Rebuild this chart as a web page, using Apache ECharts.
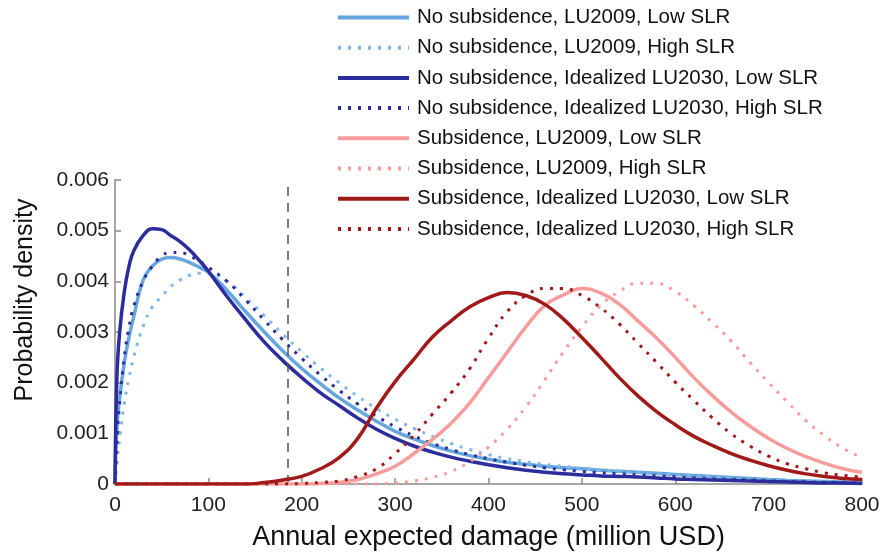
<!DOCTYPE html>
<html>
<head>
<meta charset="utf-8">
<script src="https://cdn.jsdelivr.net/npm/echarts@6/dist/echarts.min.js"></script>
<style>
  html, body { margin: 0; padding: 0; background: #fff; }
  #chart { width: 885px; height: 556px; }
</style>
</head>
<body>
<div id="chart"></div>
<script>
// Annual expected damage (million USD), shared sample points for every curve
const damage = [0, 2, 5, 10, 15, 20, 30, 40, 50, 60, 70, 80, 90, 100,
  120, 140, 160, 180, 200, 220, 240, 260, 280, 300, 320, 340, 360, 380, 400,
  420, 440, 460, 480, 500, 520, 540, 560, 580, 600, 620, 640, 660, 680, 700,
  720, 740, 760, 780, 800];

// Probability density for each scenario
const noSubLU2009Low = [0, 0.0011, 0.0017, 0.0024, 0.0029, 0.0033, 0.00402, 0.0043, 0.00444, 0.00447, 0.00444, 0.00437, 0.00428, 0.00418,
  0.00382, 0.0034, 0.003, 0.00262, 0.00228, 0.00198, 0.0017, 0.00146, 0.00124, 0.00104, 0.00089, 0.00076, 0.00065, 0.00056, 0.00049,
  0.00043, 0.00039, 0.00035, 0.00032, 0.0003, 0.00027, 0.00025, 0.00023, 0.00021, 0.00019, 0.00017, 0.00015, 0.00013, 0.00011, 0.00009,
  0.00007, 0.00006, 0.00005, 0.00004, 0.00003];

const noSubLU2009High = [0, 0.0004, 0.0009, 0.0016, 0.0021, 0.0025, 0.0031, 0.0035, 0.0037, 0.0039, 0.00403, 0.00412, 0.00416, 0.00416,
  0.004, 0.00368, 0.00332, 0.00295, 0.00261, 0.00229, 0.002, 0.00173, 0.00149, 0.00128, 0.0011, 0.00094, 0.0008, 0.00068, 0.00058,
  0.0005, 0.00044, 0.00039, 0.00035, 0.00031, 0.00028, 0.00025, 0.00023, 0.0002, 0.00018, 0.00016, 0.00014, 0.00012, 0.0001, 0.00008,
  0.00007, 0.00006, 0.00005, 0.00004, 0.00003];

const noSubLU2030Low = [0, 0.0021, 0.003, 0.0038, 0.0043, 0.0046, 0.0049, 0.00504, 0.00502, 0.0049, 0.00478, 0.00462, 0.00442, 0.0042,
  0.0037, 0.00324, 0.0028, 0.00243, 0.0021, 0.0018, 0.00155, 0.0013, 0.00108, 0.0009, 0.00075, 0.00063, 0.00053, 0.00045, 0.00038,
  0.00032, 0.00027, 0.00023, 0.0002, 0.00018, 0.00016, 0.00015, 0.00014, 0.00012, 0.0001, 0.00009, 0.00008, 0.00007, 0.00006, 0.00005,
  0.00004, 0.00003, 0.00002, 0.00002, 0.00001];

const noSubLU2030High = [0, 0.0008, 0.0016, 0.0025, 0.0031, 0.0035, 0.004, 0.0043, 0.0045, 0.00457, 0.00457, 0.0045, 0.0044, 0.00428,
  0.004, 0.00363, 0.00323, 0.00284, 0.00248, 0.00215, 0.00185, 0.00158, 0.00134, 0.00113, 0.00095, 0.0008, 0.00068, 0.00058, 0.0005,
  0.00043, 0.00037, 0.00032, 0.00028, 0.00025, 0.00022, 0.0002, 0.00018, 0.00016, 0.00014, 0.00012, 0.0001, 0.00009, 0.00008, 0.00006,
  0.00005, 0.00004, 0.00003, 0.00003, 0.00002];

const subLU2009Low = [0, 0, 0, 0, 0, 0, 0, 0, 0, 0, 0, 0, 0, 0,
  0, 0, 0, 0, 0, 0.00001, 0.00003, 0.00009, 0.0002, 0.00035, 0.0006, 0.00088, 0.0012, 0.0016, 0.0021,
  0.0026, 0.0031, 0.00352, 0.00373, 0.00386, 0.00377, 0.00355, 0.00322, 0.00288, 0.0025, 0.0021, 0.00174, 0.00142, 0.00114, 0.0009,
  0.0007, 0.00054, 0.00041, 0.0003, 0.00023];

const subLU2009High = [0, 0, 0, 0, 0, 0, 0, 0, 0, 0, 0, 0, 0, 0,
  0, 0, 0, 0, 0, 0, 0, 0, 0, 0.00002, 0.00006, 0.00013, 0.00025, 0.00044, 0.00073,
  0.00108, 0.00152, 0.00205, 0.0026, 0.0031, 0.00352, 0.0038, 0.00396, 0.00396, 0.0038, 0.00352, 0.00318, 0.00282, 0.0024, 0.002,
  0.00162, 0.00125, 0.00095, 0.0007, 0.00052];

const subLU2030Low = [0, 0, 0, 0, 0, 0, 0, 0, 0, 0, 0, 0, 0, 0,
  0, 0, 0.00003, 0.00008, 0.00015, 0.0003, 0.00052, 0.0009, 0.0015, 0.00202, 0.00246, 0.0029, 0.00322, 0.0035, 0.00368,
  0.00378, 0.00372, 0.00355, 0.00326, 0.00289, 0.0025, 0.0021, 0.00174, 0.00143, 0.00117, 0.00094, 0.00076, 0.0006, 0.00047, 0.00036,
  0.00027, 0.0002, 0.00015, 0.00011, 0.00009];

const subLU2030High = [0, 0, 0, 0, 0, 0, 0, 0, 0, 0, 0, 0, 0, 0,
  0, 0, 0, 0, 0.00001, 0.00003, 0.00006, 0.00015, 0.0003, 0.0006, 0.00096, 0.00138, 0.0018, 0.00228, 0.00288,
  0.0034, 0.00372, 0.00386, 0.00386, 0.00372, 0.00348, 0.00316, 0.00278, 0.0024, 0.00201, 0.00165, 0.0013, 0.00099, 0.00075, 0.00055,
  0.0004, 0.0003, 0.00022, 0.00017, 0.00014];

// Reference damage level marked by the vertical dashed line
const referenceDamage = 185;

const xTicks = [0, 100, 200, 300, 400, 500, 600, 700, 800];
const yTicks = [0, 0.001, 0.002, 0.003, 0.004, 0.005, 0.006];

const scenarios = [
  { name: 'No subsidence, LU2009, Low SLR', values: noSubLU2009Low },
  { name: 'No subsidence, LU2009, High SLR', values: noSubLU2009High },
  { name: 'No subsidence, Idealized LU2030, Low SLR', values: noSubLU2030Low },
  { name: 'No subsidence, Idealized LU2030, High SLR', values: noSubLU2030High },
  { name: 'Subsidence, LU2009, Low SLR', values: subLU2009Low },
  { name: 'Subsidence, LU2009, High SLR', values: subLU2009High },
  { name: 'Subsidence, Idealized LU2030, Low SLR', values: subLU2030Low },
  { name: 'Subsidence, Idealized LU2030, High SLR', values: subLU2030High }
];

// Line styles, in the same order as the scenarios
const styles = [
  { color: '#64a6dd', dotted: false },
  { color: '#7fb8e6', dotted: true },
  { color: '#2c2c9c', dotted: false },
  { color: '#2c2c9c', dotted: true },
  { color: '#f79c9c', dotted: false },
  { color: '#f79c9c', dotted: true },
  { color: '#a11a1a', dotted: false },
  { color: '#a11a1a', dotted: true }
];

const FONT = 'Arial, "Liberation Sans", Helvetica, sans-serif';

const series = scenarios.map((s, i) => {
  const st = styles[i];
  const item = {
    name: s.name,
    type: 'line',
    data: damage.map((x, k) => [x, s.values[k]]),
    symbol: 'none',
    smooth: 0.45,
    lineStyle: {
      color: st.color,
      width: st.dotted ? 3 : 3.5,
      type: st.dotted ? [3, 7] : 'solid',
      cap: 'butt'
    },
    itemStyle: { color: st.color },
    z: 2 + i
  };
  if (i === 0) {
    item.markLine = {
      silent: true,
      symbol: 'none',
      label: { show: false },
      lineStyle: { color: '#555', type: [9, 7], width: 1.5 },
      data: [{ xAxis: referenceDamage }]
    };
  }
  return item;
});

const chart = echarts.init(document.getElementById('chart'), null, { renderer: 'canvas' });
chart.setOption({
  animation: false,
  backgroundColor: '#ffffff',
  textStyle: { fontFamily: FONT },
  grid: { left: 115, right: 23, top: 180, bottom: 71, containLabel: false },
  legend: {
    data: scenarios.map(s => s.name),
    orient: 'vertical',
    left: 336,
    top: 7,
    padding: 0,
    itemWidth: 71,
    itemHeight: 14,
    itemGap: 9.2,
    selectedMode: false,
    itemStyle: { opacity: 0 },
    lineStyle: { width: 4 },
    textStyle: { fontSize: 20.5, lineHeight: 21, color: '#111', fontFamily: FONT, padding: [0, 0, 0, 3] }
  },
  xAxis: {
    type: 'value',
    min: xTicks[0],
    max: xTicks[xTicks.length - 1],
    interval: xTicks[1] - xTicks[0],
    name: 'Annual expected damage (million USD)',
    nameLocation: 'middle',
    nameGap: 40,
    nameTextStyle: { fontSize: 27, color: '#111', fontFamily: FONT },
    axisLine: { lineStyle: { color: '#8a8a8a', width: 1.5 } },
    axisTick: { inside: true, length: 6, lineStyle: { color: '#8a8a8a', width: 1.5 } },
    axisLabel: { fontSize: 21, color: '#222', margin: 11, fontFamily: FONT },
    splitLine: { show: false }
  },
  yAxis: {
    type: 'value',
    min: yTicks[0],
    max: yTicks[yTicks.length - 1],
    interval: yTicks[1] - yTicks[0],
    name: 'Probability density',
    nameLocation: 'middle',
    nameRotate: 90,
    nameGap: 77,
    nameTextStyle: { fontSize: 25, color: '#111', fontFamily: FONT, padding: [0, 0, 0, 64] },
    axisLine: { lineStyle: { color: '#8a8a8a', width: 1.5 } },
    axisTick: { inside: true, length: 6, lineStyle: { color: '#8a8a8a', width: 1.5 } },
    axisLabel: {
      fontSize: 21, color: '#222', margin: 6, fontFamily: FONT,
      formatter: v => (v === 0 ? '0' : v.toFixed(3))
    },
    splitLine: { show: false }
  },
  series: series
});
</script>
</body>
</html>
